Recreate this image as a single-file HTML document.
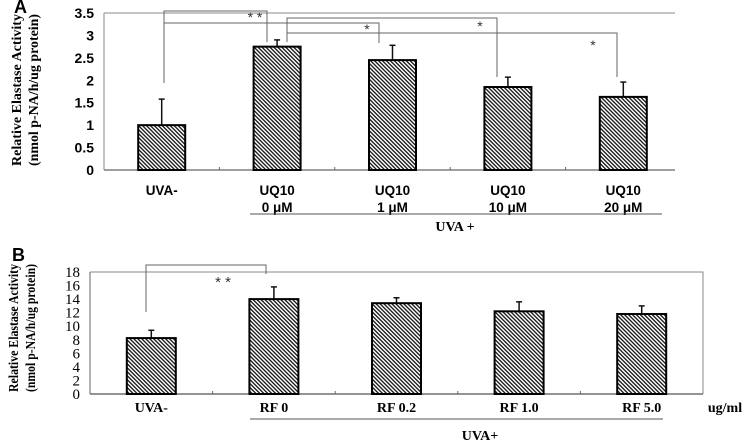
<!DOCTYPE html>
<html><head><meta charset="utf-8"><style>
html,body{margin:0;padding:0;background:#fff;}
svg{display:block;}
.sans{font-family:"Liberation Sans",Arial,sans-serif;font-weight:bold;}
.serif{font-family:"Liberation Serif","Times New Roman",serif;font-weight:bold;}
</style></head><body>
<svg id="fig" width="750" height="443" viewBox="0 0 750 443" xmlns="http://www.w3.org/2000/svg">
<defs>
<pattern id="hatch" patternUnits="userSpaceOnUse" width="2.8" height="2.8" patternTransform="rotate(-45)">
<rect width="2.8" height="2.8" fill="#fff"/>
<line x1="0.7" y1="0" x2="0.7" y2="2.8" stroke="#111" stroke-width="1.3"/>
</pattern>
</defs>
<g id="chartA"></g>
<g id="chartB"></g>
</svg>
<script>
// ---- Chart A data ----
const catsA1 = ["UVA-","UQ10","UQ10","UQ10","UQ10"];
const catsA2 = ["","0 μM","1 μM","10 μM","20 μM"];
const valsA = [1.0, 2.75, 2.45, 1.85, 1.63];
const errA = [0.58, 0.15, 0.33, 0.22, 0.33];
const ticksA = [0,0.5,1,1.5,2,2.5,3,3.5];
const tickLabelsA = ["0","0.5","1","1.5","2","2.5","3","3.5"];
// ---- Chart B data ----
const catsB = ["UVA-","RF 0","RF 0.2","RF 1.0","RF 5.0"];
const valsB = [8.25, 14.0, 13.4, 12.2, 11.8];
const errB = [1.15, 1.8, 0.8, 1.4, 1.2];
const ticksB = [0,2,4,6,8,10,12,14,16,18];
const tickLabelsB = ["0","2","4","6","8","10","12","14","16","18"];

const NS="http://www.w3.org/2000/svg";
function mk(parent,tag,attrs,text){const e=document.createElementNS(NS,tag);for(const k in attrs)e.setAttribute(k,attrs[k]);if(text!==undefined)e.textContent=text;parent.appendChild(e);return e;}

// ---------- Chart A ----------
(function(){
const g=document.getElementById('chartA');
const L=104,R=681,T=13,B=170,ymax=3.5;
const band=(R-L)/valsA.length;
const x=i=>L+band*(i+0.5);
const y=v=>B-(v/ymax)*(B-T);
const bw=47;
let t=mk(g,'text',{x:14,y:13,class:'sans','font-size':18},'A');


let ln=mk(g,'line',{x1:L,y1:T,x2:675,y2:T,stroke:'#888','stroke-width':1});


ln=mk(g,'line',{x1:L,y1:T,x2:L,y2:B,stroke:'#888','stroke-width':1});


ln=mk(g,'line',{x1:L,y1:B,x2:675,y2:B,stroke:'#666','stroke-width':1.2});


ticksA.forEach((v,i)=>{
  const tl=mk(g,'text',{x:94,y:y(v)+5,'text-anchor':'end',class:'sans','font-size':14},tickLabelsA[i]);
  
  
});
for(let i=1;i<valsA.length;i++){
  const tk=mk(g,'line',{x1:L+band*i,y1:B-3,x2:L+band*i,y2:B,stroke:'#666'});
  
  
}
valsA.forEach((v,i)=>{
  const e=mk(g,'line',{x1:x(i),y1:y(v),x2:x(i),y2:y(v+errA[i]),stroke:'#111','stroke-width':1.5});
  
  
  const c=mk(g,'line',{x1:x(i)-3,y1:y(v+errA[i]),x2:x(i)+3,y2:y(v+errA[i]),stroke:'#111','stroke-width':1.5});
  
  
  const r=mk(g,'rect',{x:x(i)-bw/2,y:y(v),width:bw,height:B-y(v),fill:'url(#hatch)',stroke:'#000','stroke-width':2});
  
  
  const l1=mk(g,'text',{x:x(i),y:195,'text-anchor':'middle',class:'sans','font-size':13.5},catsA1[i]);
  
  
  if(catsA2[i]){
    const l2=mk(g,'text',{x:x(i),y:212,'text-anchor':'middle',class:'sans','font-size':13.5},catsA2[i]);
    
    
  }
});
ln=mk(g,'line',{x1:250,y1:214,x2:662,y2:214,stroke:'#555','stroke-width':1});


t=mk(g,'text',{x:455,y:231,'text-anchor':'middle',class:'serif','font-size':14},'UVA +');


t=mk(g,'text',{transform:'translate(21,90) rotate(-90)','text-anchor':'middle',class:'serif','font-size':14,textLength:152,lengthAdjust:'spacingAndGlyphs'},'Relative Elastase Activity');


t=mk(g,'text',{transform:'translate(38,90) rotate(-90)','text-anchor':'middle',class:'serif','font-size':14,textLength:152,lengthAdjust:'spacingAndGlyphs'},'(nmol p-NA/h/ug protein)');


const br=[
 "M164,83 V11 H267 V42",
 "M164,23 H379 V43",
 "M287,42 V18 H497 V77",
 "M287,33 H617 V77"];
br.forEach(d=>{const p=mk(g,'path',{d:d,fill:'none',stroke:'#666','stroke-width':1});
 
 });
[[255,22,'* *'],[367,34,'*'],[480,31,'*'],[593,50,'*']].forEach(s=>{
 const st=mk(g,'text',{x:s[0],y:s[1],'text-anchor':'middle','font-family':'Liberation Sans, sans-serif','font-size':14,fill:'#333'},s[2]);
 
 });
})();

// ---------- Chart B ----------
(function(){
const g=document.getElementById('chartB');
const L=90,R=703,T=272,B=394,ymax=18;
const band=(R-L)/valsB.length;
const x=i=>L+band*(i+0.5);
const y=v=>B-(v/ymax)*(B-T);
const bw=49;
let t=mk(g,'text',{x:12,y:261,class:'sans','font-size':18},'B');


let ln=mk(g,'path',{d:`M${L},${T} H${R} V${B}`,fill:'none',stroke:'#888','stroke-width':1});


ln=mk(g,'line',{x1:L,y1:T,x2:L,y2:B,stroke:'#666','stroke-width':1});


ln=mk(g,'line',{x1:L,y1:B,x2:R,y2:B,stroke:'#555','stroke-width':1.2});


ticksB.forEach((v,i)=>{
  const tl=mk(g,'text',{x:80,y:y(v)+5,'text-anchor':'end','font-family':'Liberation Serif, serif','font-size':15},tickLabelsB[i]);
  
  
});
for(let i=1;i<valsB.length;i++){
  const tk=mk(g,'line',{x1:L+band*i,y1:B-3,x2:L+band*i,y2:B,stroke:'#666'});
  
  
}
valsB.forEach((v,i)=>{
  const e=mk(g,'line',{x1:x(i),y1:y(v),x2:x(i),y2:y(v+errB[i]),stroke:'#111','stroke-width':1.5});
  
  
  const c=mk(g,'line',{x1:x(i)-3,y1:y(v+errB[i]),x2:x(i)+3,y2:y(v+errB[i]),stroke:'#111','stroke-width':1.5});
  
  
  const r=mk(g,'rect',{x:x(i)-bw/2,y:y(v),width:bw,height:B-y(v),fill:'url(#hatch)',stroke:'#000','stroke-width':2});
  
  
  const l=mk(g,'text',{x:x(i),y:412,'text-anchor':'middle',class:'serif','font-size':14},catsB[i]);
  
  
});
t=mk(g,'text',{x:725,y:412,'text-anchor':'middle',class:'serif','font-size':14},'ug/ml');


ln=mk(g,'line',{x1:250,y1:419,x2:663,y2:419,stroke:'#555','stroke-width':1});


t=mk(g,'text',{x:480,y:440,'text-anchor':'middle',class:'serif','font-size':14},'UVA+');


t=mk(g,'text',{transform:'translate(18,328) rotate(-90)','text-anchor':'middle',class:'serif','font-size':14,textLength:128,lengthAdjust:'spacingAndGlyphs'},'Relative  Elastase  Activity');


t=mk(g,'text',{transform:'translate(35,328) rotate(-90)','text-anchor':'middle',class:'serif','font-size':14,textLength:128,lengthAdjust:'spacingAndGlyphs'},'(nmol p-NA/h/ug protein)');


const p=mk(g,'path',{d:"M146,312 V265 H266 V274",fill:'none',stroke:'#666','stroke-width':1});


const st=mk(g,'text',{x:223,y:287,'text-anchor':'middle','font-family':'Liberation Sans, sans-serif','font-size':15,fill:'#333'},'* *');


})();
</script>
</body></html>
